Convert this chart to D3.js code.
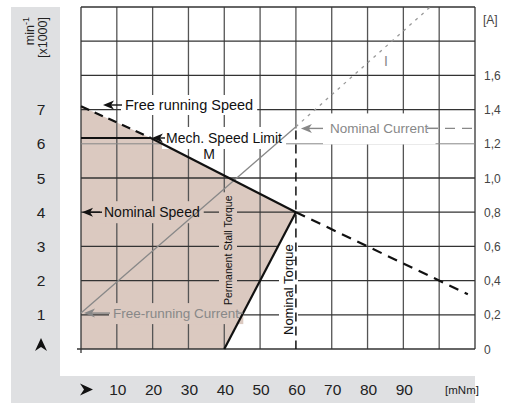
<!DOCTYPE html>
<html><head><meta charset="utf-8">
<script src="https://cdn.jsdelivr.net/npm/d3@7"></script>
<style>body{margin:0;background:#fff}svg{display:block;font-family:"Liberation Sans",Arial,Helvetica,sans-serif}</style>
</head><body><svg id="c" width="507" height="403"></svg>
<script>
// ---- data ----
const torqueTicks = [10, 20, 30, 40, 50, 60, 70, 80, 90];
const speedTicks = [1, 2, 3, 4, 5, 6, 7];
const currentTicks = [0, 0.2, 0.4, 0.6, 0.8, 1.0, 1.2, 1.4, 1.6];
const currentTickLabels = ["0", "0,2", "0,4", "0,6", "0,8", "1,0", "1,2", "1,4", "1,6"];
const speedCurve = [[0, 7.1], [19.5, 6.17], [60, 4.0], [108, 1.6]];   // [mNm, min-1 x1000]
const mechSpeedLimit = [[0, 6.17], [19.5, 6.17]];
const stallTorque = [[40, 0], [60, 4.0]];
const currentSolid = [[0, 0.21], [60, 1.3]];   // [mNm, A]
const currentDashed = [[60, 1.3], [97.5, 2.0]];
const nominalTorque = 60;
const nominalCurrent = 1.29;
const nominalSpeed = 4.0;

// ---- scales ----
const svg = d3.select("#c");
const x = d3.scaleLinear().domain([0, 110]).range([81, 475]);
const ys = d3.scaleLinear().domain([0, 10]).range([349, 7]);
const yc = d3.scaleLinear().domain([0, 2]).range([349, 7]);
const FILL = "#dbc9c0", PANEL = "#dfe0e2";

// panels
svg.append("rect").attr("x", 11).attr("y", 7).attr("width", 49).attr("height", 396).attr("fill", PANEL);
svg.append("rect").attr("x", 11).attr("y", 376).attr("width", 464).attr("height", 27).attr("fill", PANEL);

// shaded operating area
const area = [[0, 0]].concat(speedCurve.slice(0, 3)).concat([stallTorque[0]]);
svg.append("path").attr("d", d3.line().x(d => x(d[0])).y(d => ys(d[1]))(area)).attr("fill", FILL);

// grid
const grid = svg.append("g");
d3.range(0, 111, 10).forEach(v => {
  const top = ys(10);
  const bot = v === 0 ? 353 : (v === nominalTorque ? yc(nominalCurrent) : ys(0));
  grid.append("line").attr("x1", x(v)).attr("x2", x(v)).attr("y1", top).attr("y2", bot)
    .attr("stroke", v === 0 || v === 110 ? "#333" : "#555").attr("stroke-width", 1.3);
});
d3.range(0, 11, 1).forEach(v => {
  grid.append("line").attr("x1", v === 0 ? 77 : x(0)).attr("x2", x(110)).attr("y1", ys(v)).attr("y2", ys(v))
    .attr("stroke", v === 6 ? "#888" : "#333").attr("stroke-width", v === 6 ? 1 : 1.3);
});

const bgLayer = svg.append("g");
const dataLayer = svg.append("g");
const textLayer = svg.append("g");

function label(t, px, py, o) {
  o = Object.assign({size: 13.5, color: "#111", anchor: "start", rot: 0, bg: "#fff", padX: 4, padY: 3}, o || {});
  const tr = `translate(${px},${py}) rotate(${o.rot})`;
  const tx = textLayer.append("text").attr("transform", tr).attr("font-size", o.size)
    .attr("fill", o.color).attr("text-anchor", o.anchor).text(t);
  if (o.bg) {
    const b = tx.node().getBBox();
    bgLayer.append("rect").attr("transform", tr).attr("x", b.x - o.padX).attr("y", b.y - o.padY)
      .attr("width", b.width + 2 * o.padX).attr("height", b.height + 2 * o.padY).attr("fill", o.bg);
  }
  return tx;
}
function arrowLeft(x1, x2, y, color) { // tip at x1
  dataLayer.append("line").attr("x1", x1 + 6).attr("x2", x2).attr("y1", y).attr("y2", y)
    .attr("stroke", color).attr("stroke-width", 1.4);
  dataLayer.append("path").attr("d", `M${x1},${y} L${x1 + 11},${y - 4.5} L${x1 + 8},${y} L${x1 + 11},${y + 4.5} Z`).attr("fill", color);
}

const ln = d3.line().x(d => x(d[0])).y(d => ys(d[1]));
const lnc = d3.line().x(d => x(d[0])).y(d => yc(d[1]));

// current lines
dataLayer.append("path").attr("d", lnc(currentSolid)).attr("fill", "none").attr("stroke", "#888").attr("stroke-width", 1.3);
dataLayer.append("path").attr("d", lnc(currentDashed)).attr("fill", "none").attr("stroke", "#999").attr("stroke-width", 1.3).attr("stroke-dasharray", "3,5");
// nominal current dashed
dataLayer.append("line").attr("x1", 428).attr("x2", x(110)).attr("y1", yc(nominalCurrent)).attr("y2", yc(nominalCurrent))
  .attr("stroke", "#888").attr("stroke-width", 1.3).attr("stroke-dasharray", "10,7");
// nominal torque dashed vertical
dataLayer.append("line").attr("x1", x(nominalTorque)).attr("x2", x(nominalTorque)).attr("y1", yc(nominalCurrent) + 2).attr("y2", ys(0))
  .attr("stroke", "#111").attr("stroke-width", 1.5).attr("stroke-dasharray", "9,5");
// speed curve
dataLayer.append("path").attr("d", ln(speedCurve.slice(0, 2))).attr("fill", "none").attr("stroke", "#111").attr("stroke-width", 2.2).attr("stroke-dasharray", "9,6");
dataLayer.append("path").attr("d", ln(speedCurve.slice(1, 3))).attr("fill", "none").attr("stroke", "#111").attr("stroke-width", 2.2);
dataLayer.append("path").attr("d", ln(speedCurve.slice(2))).attr("fill", "none").attr("stroke", "#111").attr("stroke-width", 2.2).attr("stroke-dasharray", "10,7");
dataLayer.append("path").attr("d", ln(mechSpeedLimit)).attr("fill", "none").attr("stroke", "#111").attr("stroke-width", 2);
dataLayer.append("path").attr("d", ln(stallTorque)).attr("fill", "none").attr("stroke", "#111").attr("stroke-width", 2.2);

// labels in plot
arrowLeft(103, 122, 105, "#111");
label("Free running Speed", 125, 110, {size: 14.5, padY: 2});
arrowLeft(x(19.8), 165, ys(6.17), "#111");
label("Mech. Speed Limit", 166, ys(6.17) + 5, {size: 14});
label("M", 209, ys(5.55), {anchor: "middle", size: 14, bg: null});
arrowLeft(x(0) + 1, 102, ys(nominalSpeed), "#111");
label("Nominal Speed", 104, ys(nominalSpeed) + 5, {bg: FILL, size: 14});
label("Permanent Stall Torque", 232, 305, {rot: -90, size: 10.5, bg: FILL, padX: 3, padY: 3});
label("Nominal Torque", 293, 335, {rot: -90, size: 13, padX: 3, padY: 2});
arrowLeft(x(nominalTorque) + 5, 323, yc(nominalCurrent), "#888");
label("Nominal Current", 330, yc(nominalCurrent) + 5, {color: "#888", size: 13.5, padX: 7, padY: 8});
dataLayer.append("line").attr("x1", 427).attr("x2", 438).attr("y1", yc(nominalCurrent)).attr("y2", yc(nominalCurrent)).attr("stroke", "#888").attr("stroke-width", 1.3);
arrowLeft(x(0) + 3, 110, yc(0.21), "#888");
label("Free-running Current", 113, yc(0.21) + 5, {color: "#888", bg: FILL, size: 13.5});
dataLayer.append("line").attr("x1", 238).attr("x2", 243).attr("y1", yc(0.21)).attr("y2", yc(0.21)).attr("stroke", "#888").attr("stroke-width", 1.3);
label("I", 386, 66, {color: "#888", size: 14, anchor: "middle", bg: null});

// left axis
const ax = svg.append("g");
speedTicks.forEach(v => {
  ax.append("text").attr("x", 41).attr("y", ys(v) + 5.5).attr("text-anchor", "middle").attr("font-size", 15.5).attr("fill", "#222").text(v);
});
const t1 = ax.append("text").attr("transform", "translate(34,17) rotate(-90)").attr("text-anchor", "end").attr("font-size", 12.5).attr("fill", "#222");
t1.append("tspan").text("min");
t1.append("tspan").attr("dy", -5).attr("font-size", 9).text("-1");
ax.append("text").attr("transform", "translate(47,17) rotate(-90)").attr("text-anchor", "end").attr("font-size", 12.5).attr("fill", "#222").text("[x1000]");
ax.append("path").attr("d", "M41,338 L47,351 L41,347 L35,351 Z").attr("fill", "#111");

// bottom axis
torqueTicks.forEach(v => {
  ax.append("text").attr("x", x(v) + 1).attr("y", 395).attr("text-anchor", "middle").attr("font-size", 15.5).attr("fill", "#222").text(v);
});
ax.append("path").attr("d", "M93,389.5 L80,383.5 L84,389.5 L80,395.5 Z").attr("fill", "#111");
ax.append("text").attr("x", 462).attr("y", 394).attr("text-anchor", "middle").attr("font-size", 11.5).attr("fill", "#222").text("[mNm]");

// right axis
currentTicks.forEach((v, i) => {
  ax.append("text").attr("x", 484).attr("y", yc(v) + 4.5).attr("font-size", 12).attr("fill", "#444").text(currentTickLabels[i]);
});
ax.append("text").attr("x", 483).attr("y", 24).attr("font-size", 12).attr("fill", "#444").text("[A]");
</script></body></html>
